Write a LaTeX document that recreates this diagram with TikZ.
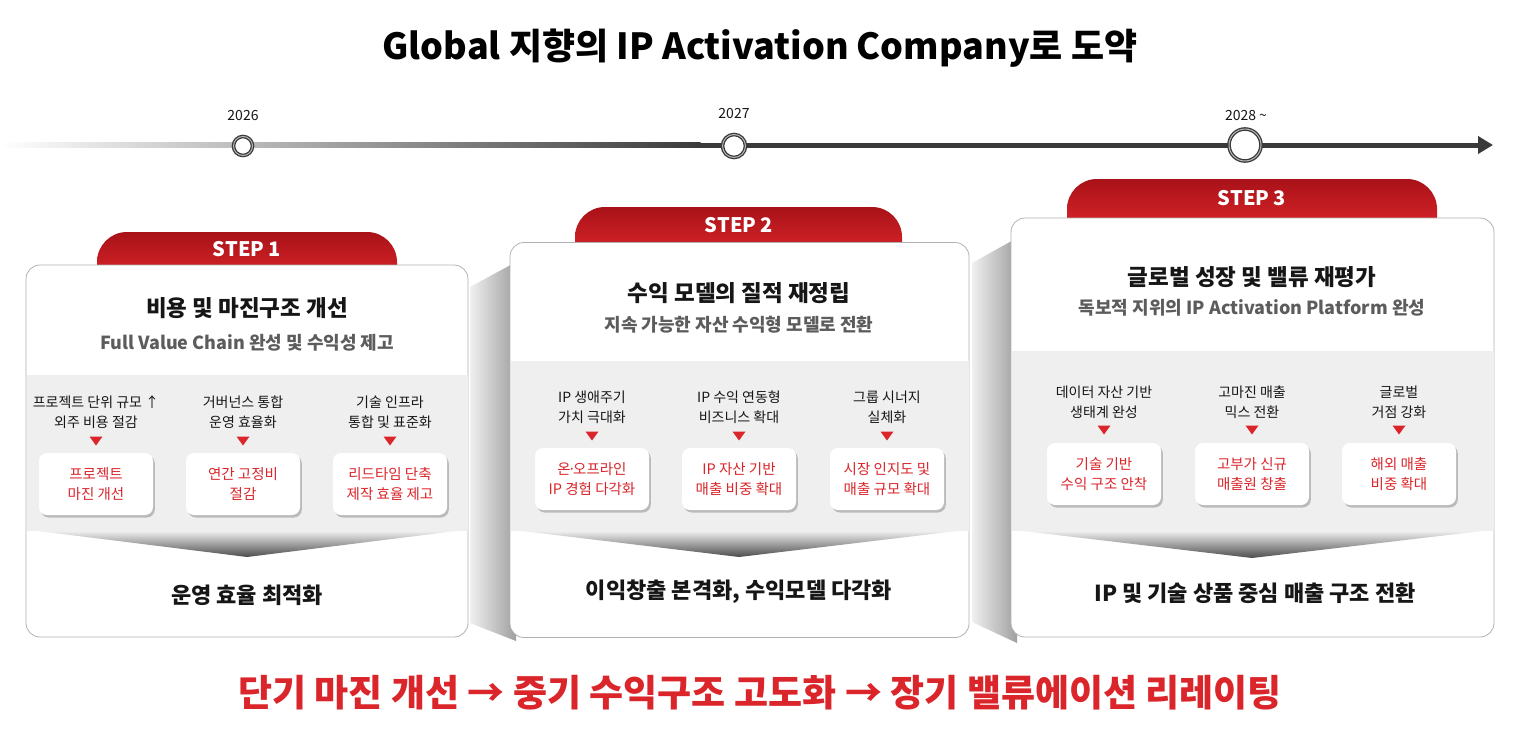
\documentclass[tikz,border=0pt]{standalone}
\usepackage{fontspec}
\setmainfont{Noto Sans CJK KR}
\usetikzlibrary{shadows,arrows.meta}
\definecolor{accent}{RGB}{218,37,42}
\definecolor{tabdark}{RGB}{168,18,24}
\definecolor{ink}{RGB}{22,22,22}
\definecolor{subgray}{RGB}{92,92,92}
\definecolor{bandgray}{RGB}{239,239,239}
\definecolor{lineink}{RGB}{58,58,58}
\newcommand\redtri[2]{\fill[accent] (#1-6.5,#2-4.5) -- (#1+6.5,#2-4.5) -- (#1,#2+4.5) -- cycle;}
\begin{document}
\begin{tikzpicture}[x=1pt,y=-1pt,
  card/.style={draw=black!30, fill=white, rounded corners=14, line width=0.8},
  steptxt/.style={text=white, font=\fontsize{20}{22}\selectfont\bfseries},
  cardtitle/.style={text=ink, font=\fontsize{22.5}{26}\selectfont\bfseries},
  cardsub/.style={text=subgray, font=\fontsize{18}{21}\selectfont\bfseries},
  itemtxt/.style={text=ink, align=center, font=\fontsize{14}{20}\selectfont},
  minibox/.style={fill=white, rounded corners=8, minimum width=114, minimum height=62,
    text=accent, align=center, font=\fontsize{14.5}{19.5}\selectfont,
    drop shadow={shadow xshift=1.8pt, shadow yshift=-2.5pt, fill=black, opacity=0.22}},
  cardbottom/.style={text=ink, font=\fontsize{22}{24}\selectfont\bfseries},
  yearlbl/.style={text=ink, font=\fontsize{14}{16}\selectfont},
  tlcircle/.style={circle, draw=lineink, double=gray!55, double distance=1pt, line width=1.3, fill=white, inner sep=0pt},
  sideshade/.style={left color=gray!12, right color=gray!75}
]
\useasboundingbox (0,0) rectangle (1522,736);
\fill[white] (0,0) rectangle (1522,736);

% title
\node[text=black, font=\fontsize{36}{40}\selectfont\bfseries] (title) at (760,48) {Global 지향의 IP Activation Company로 도약};

% timeline
\coordinate (tlstart) at (0,145);
\coordinate (tlmid) at (700,145);
\coordinate (tlend) at (1493,145);
\shade[left color=white, right color=lineink] (0,142.5) rectangle (700.5,147.5);
\draw[lineink, line width=5, -{Triangle[length=15,width=17]}] (tlmid) -- (tlend);
\node[tlcircle, minimum size=19] (t1) at (243,146) {};
\node[tlcircle, minimum size=23] (t2) at (734,146) {};
\node[tlcircle, minimum size=32] (t3) at (1245,145) {};
\node[yearlbl] (y1) at (243,116) {2026};
\node[yearlbl] (y2) at (734,114) {2027};
\node[yearlbl] (y3) at (1246,116) {2028 \char"7E};

% side shades between cards
\shade[sideshade] (470,287) -- (516,262) -- (516,641) -- (470,623) -- cycle;
\shade[sideshade] (972,263) -- (1017,238) -- (1017,643) -- (972,622) -- cycle;

% ================= CARD 1 =================
\shade[top color=tabdark, bottom color=accent] (97,280) {[rounded corners=30] -- (97,232) -- (397,232)} -- (397,280) -- cycle;
\node[steptxt] (s1) at (247,249) {STEP 1};
\node[card, minimum width=442, minimum height=372] (c1) at (247,451) {};
\fill[bandgray] (26.5,375) rectangle (467.5,531);
\shade[top color=bandgray, middle color=gray!45, bottom color=black!70] (38,531) -- (456,531) -- (247,557) -- cycle;
\node[cardtitle] (c1t) at (247,308) {비용 및 마진구조 개선};
\node[cardsub] (c1s) at (247,343) {Full Value Chain 완성 및 수익성 제고};
\node[itemtxt] (c1i1) at (96,412) {프로젝트 단위 규모 ↑\\외주 비용 절감};
\node[itemtxt] (c1i2) at (243,412) {거버넌스 통합\\운영 효율화};
\node[itemtxt] (c1i3) at (390,412) {기술 인프라\\통합 및 표준화};
\redtri{96}{441}\redtri{243}{441}\redtri{390}{441}
\node[minibox] (c1b1) at (96,484) {프로젝트\\마진 개선};
\node[minibox] (c1b2) at (243,484) {연간 고정비\\절감};
\node[minibox] (c1b3) at (390,484) {리드타임 단축\\제작 효율 제고};
\node[cardbottom] (c1f) at (247,595) {운영 효율 최적화};

% ================= CARD 2 =================
\shade[top color=tabdark, bottom color=accent] (575,255) {[rounded corners=30] -- (575,207) -- (902,207)} -- (902,255) -- cycle;
\node[steptxt] (s2) at (739,225) {STEP 2};
\node[card, minimum width=459, minimum height=395] (c2) at (739.5,440) {};
\fill[bandgray] (510.5,361) rectangle (968.5,531);
\shade[top color=bandgray, middle color=gray!45, bottom color=black!70] (522,531) -- (957,531) -- (739,557) -- cycle;
\node[cardtitle] (c2t) at (739,293) {수익 모델의 질적 재정립};
\node[cardsub] (c2s) at (739,325) {지속 가능한 자산 수익형 모델로 전환};
\node[itemtxt] (c2i1) at (592,407) {IP 생애주기\\가치 극대화};
\node[itemtxt] (c2i2) at (739,407) {IP 수익 연동형\\비즈니스 확대};
\node[itemtxt] (c2i3) at (887,407) {그룹 시너지\\실체화};
\redtri{592}{436}\redtri{739}{436}\redtri{887}{436}
\node[minibox] (c2b1) at (592,479) {온{\kern-0.2em}·{\kern-0.2em}오프라인\\IP 경험 다각화};
\node[minibox] (c2b2) at (739,479) {IP 자산 기반\\매출 비중 확대};
\node[minibox] (c2b3) at (887,479) {시장 인지도 및\\매출 규모 확대};
\node[cardbottom] (c2f) at (739,592) {이익창출 본격화, 수익모델 다각화};

% ================= CARD 3 =================
\shade[top color=tabdark, bottom color=accent] (1067,230) {[rounded corners=30] -- (1067,179) -- (1437,179)} -- (1437,230) -- cycle;
\node[steptxt] (s3) at (1252,198) {STEP 3};
\node[card, minimum width=483, minimum height=419] (c3) at (1252.5,427.5) {};
\fill[bandgray] (1011.5,351) rectangle (1493.5,531);
\shade[top color=bandgray, middle color=gray!45, bottom color=black!70] (1023,531) -- (1482,531) -- (1252,558) -- cycle;
\node[cardtitle] (c3t) at (1252,277) {글로벌 성장 및 밸류 재평가};
\node[cardsub] (c3s) at (1252,308) {독보적 지위의 IP Activation Platform 완성};
\node[itemtxt] (c3i1) at (1104,402) {데이터 자산 기반\\생태계 완성};
\node[itemtxt] (c3i2) at (1252,402) {고마진 매출\\믹스 전환};
\node[itemtxt] (c3i3) at (1399,402) {글로벌\\거점 강화};
\redtri{1104}{430}\redtri{1252}{430}\redtri{1399}{430}
\node[minibox] (c3b1) at (1104,474) {기술 기반\\수익 구조 안착};
\node[minibox] (c3b2) at (1252,474) {고부가 신규\\매출원 창출};
\node[minibox] (c3b3) at (1399,474) {해외 매출\\비중 확대};
\node[cardbottom] (c3f) at (1255,593) {IP 및 기술 상품 중심 매출 구조 전환};

% banner
\node[text=accent, font=\fontsize{37}{40}\selectfont\bfseries] (banner) at (760,693) {단기 마진 개선 → 중기 수익구조 고도화 → 장기 밸류에이션 리레이팅};
\end{tikzpicture}
\end{document}
